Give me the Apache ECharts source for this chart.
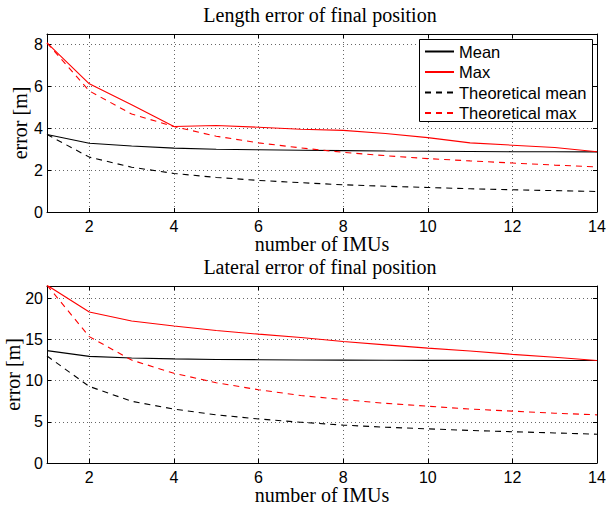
<!DOCTYPE html>
<html><head><meta charset="utf-8">
<script src="https://cdn.jsdelivr.net/npm/echarts@6/dist/echarts.min.js"></script>
<style>html,body{margin:0;padding:0;background:#fff}#c{width:606px;height:506px}</style>
</head><body><div id="c"></div>
<script>
const imus = [1,2,3,4,5,6,7,8,9,10,11,12,13,14];
const seriesNames = ['Mean','Max','Theoretical mean','Theoretical max'];
const titles = ['Length error of final position','Lateral error of final position'];
const xName = 'number of IMUs';
const yName = 'error [m]';
// Length error
const lenMean    = [3.70,3.28,3.15,3.05,3.00,2.97,2.95,2.93,2.91,2.90,2.89,2.88,2.88,2.87];
const lenMax     = [8.08,6.12,5.12,4.08,4.13,4.05,3.95,3.90,3.75,3.55,3.30,3.19,3.08,2.88];
const lenThMean  = [3.70,2.62,2.14,1.84,1.65,1.51,1.40,1.30,1.23,1.17,1.11,1.06,1.02,0.98];
const lenThMax   = [8.08,5.78,4.68,4.08,3.62,3.30,3.06,2.85,2.69,2.55,2.44,2.34,2.24,2.15];
// Lateral error
const latMean    = [13.65,12.95,12.75,12.65,12.58,12.55,12.52,12.50,12.48,12.47,12.46,12.45,12.45,12.45];
const latMax     = [21.6,18.35,17.25,16.65,16.1,15.65,15.25,14.75,14.35,13.95,13.6,13.2,12.85,12.45];
const latThMean  = [13.0,9.3,7.5,6.55,5.85,5.35,4.95,4.6,4.35,4.15,3.95,3.8,3.65,3.5];
const latThMax   = [21.6,15.35,12.5,10.9,9.75,8.9,8.2,7.7,7.25,6.9,6.55,6.3,6.05,5.85];
const yTop = {min:0, max:8.5, interval:2};
const yBot = {min:0, max:21.5, interval:5};

const chart = echarts.init(document.getElementById('c'), null, {renderer:'svg'});
const sans = 'Liberation Sans';
const serif = 'Liberation Serif';
const grids = [
  {left:47, top:34, width:550, height:178, containLabel:false, outerBoundsMode:'none'},
  {left:47, top:286, width:550, height:177, containLabel:false, outerBoundsMode:'none'}
];
const gridLine = {show:true, lineStyle:{color:'#666', type:[1,3], width:1}};
function xAxes(g){
  return [
    {type:'value', gridIndex:g, min:1, max:14, splitNumber:6, position:'bottom',
     name:xName, nameLocation:'middle', nameGap:22, nameMoveOverlap:false,
     nameTextStyle:{fontFamily:serif, fontSize:20, color:'#000'},
     axisLine:{onZero:false, lineStyle:{color:'#000', width:1}},
     axisTick:{inside:true, length:4, lineStyle:{color:'#000'}},
     axisLabel:{showMinLabel:false, fontFamily:sans, fontSize:16, color:'#000', margin:6},
     splitLine:gridLine},
    {type:'value', gridIndex:g, min:1, max:14, splitNumber:6, position:'top',
     axisLine:{onZero:false, lineStyle:{color:'#000', width:1}},
     axisTick:{inside:true, length:4, lineStyle:{color:'#000'}},
     axisLabel:{show:false}, splitLine:{show:false}}
  ];
}
function yAxes(g, sc, gap){
  return [
    {type:'value', gridIndex:g, min:sc.min, max:sc.max, interval:sc.interval, position:'left',
     name:yName, nameLocation:'middle', nameGap:gap, nameRotate:90, nameMoveOverlap:false,
     nameTextStyle:{fontFamily:serif, fontSize:20, color:'#000'},
     axisLine:{show:true, onZero:false, lineStyle:{color:'#000', width:1}},
     axisTick:{show:true, inside:true, length:4, lineStyle:{color:'#000'}},
     axisLabel:{showMaxLabel:false, fontFamily:sans, fontSize:16, color:'#000', margin:4},
     splitLine:gridLine},
    {type:'value', gridIndex:g, min:sc.min, max:sc.max, interval:sc.interval, position:'right',
     axisLine:{show:true, onZero:false, lineStyle:{color:'#000', width:1}},
     axisTick:{show:true, inside:true, length:4, lineStyle:{color:'#000'}},
     axisLabel:{show:false}, splitLine:{show:false}}
  ];
}
const styles = [
  {color:'#000', type:'solid'},
  {color:'#ff0000', type:'solid'},
  {color:'#000', type:[6,5]},
  {color:'#ff0000', type:[6,5]}
];
const topData = [lenMean, lenMax, lenThMean, lenThMax];
const botData = [latMean, latMax, latThMean, latThMax];
const series = [];
[topData, botData].forEach((set, g) => {
  set.forEach((vals, i) => {
    series.push({
      type:'line', name:seriesNames[i], xAxisIndex:g*2, yAxisIndex:g*2,
      data: imus.map((x,k)=>[x, vals[k]]),
      symbol:'none', silent:true, animation:false,
      lineStyle:{color:styles[i].color, type:styles[i].type, width:1.1},
      itemStyle:{color:styles[i].color},
      z: 3
    });
  });
});
chart.setOption({
  animation:false,
  backgroundColor:'#fff',
  grid:grids,
  xAxis:[...xAxes(0), ...xAxes(1)],
  yAxis:[...yAxes(0, yTop, 17), ...yAxes(1, yBot, 24)],
  legend:{
    data:seriesNames, orient:'vertical', left:419, top:39,
    itemWidth:29, itemHeight:10, itemGap:3.5,
    padding:[4,2,2,5], z:10,
    borderWidth:0, backgroundColor:'transparent',
    itemStyle:{opacity:0},
    textStyle:{fontFamily:sans, fontSize:16.5, color:'#000'},
    selectedMode:false
  },
  graphic:[
    {type:'rect', z:9, shape:{x:419.5, y:39.5, width:173, height:82}, style:{fill:'#fff', stroke:'#000', lineWidth:1}},
    {type:'text', style:{x:320, y:15, text:titles[0], align:'center', verticalAlign:'middle', font:'20px "Liberation Serif"', fill:'#000'}},
    {type:'text', style:{x:320, y:267, text:titles[1], align:'center', verticalAlign:'middle', font:'20px "Liberation Serif"', fill:'#000'}}
  ],
  series:series
});
</script></body></html>
